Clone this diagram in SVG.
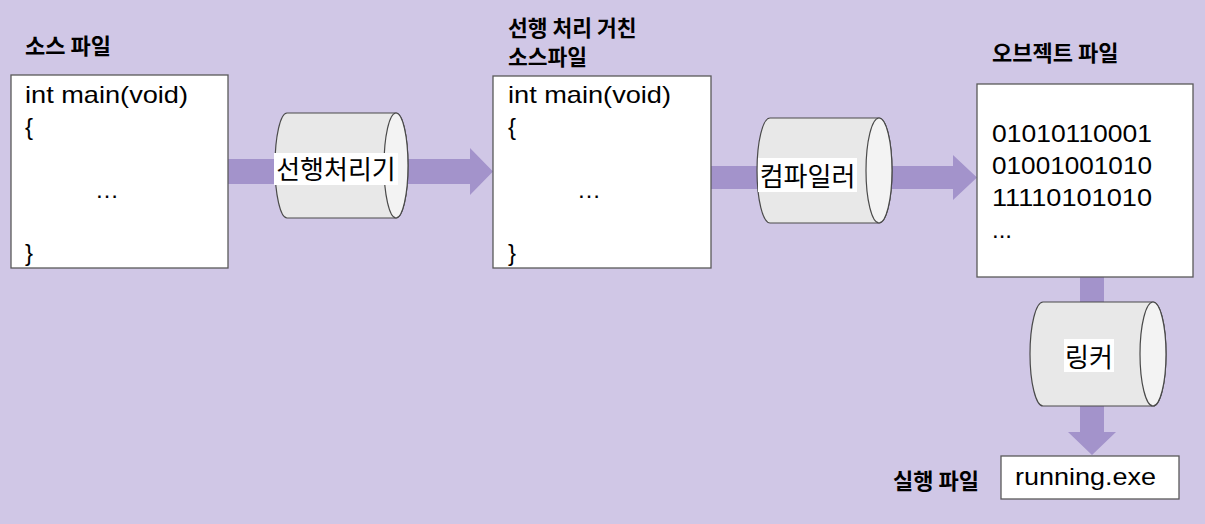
<svg xmlns="http://www.w3.org/2000/svg" width="1205" height="524" viewBox="0 0 1205 524">
<style>
.bg{fill:#d0c7e6}
.box{fill:#ffffff;stroke:#595959;stroke-width:1.3}
.arrow{fill:#a393cb}
.cyl{fill:#e8e8e8;stroke:#4a4a4a;stroke-width:1.2}
.cap{fill:#f3f3f3;stroke:#4a4a4a;stroke-width:1.2}
.lblbg{fill:#ffffff}
.code{font-family:"Liberation Sans",Arial,sans-serif;font-size:24px;fill:#000}
.title{font-family:"Noto Sans CJK KR",sans-serif;font-size:22px;font-weight:bold;fill:#000}
.title2{font-family:"Noto Sans CJK KR",sans-serif;font-size:21.5px;font-weight:bold;fill:#000}
.lbl{font-family:"Noto Sans CJK KR",sans-serif;font-size:26px;fill:#000;text-anchor:middle}
</style>
<rect class="bg" x="0" y="0" width="1205" height="524"/>

<g id="connectors">
<polygon class="arrow" points="228,159 470,159 470,148 493,171.5 470,195 470,184 228,184"/>
<polygon class="arrow" points="711,166 953,166 953,155 977,177.5 953,200 953,189 711,189"/>
<polygon class="arrow" points="1080,277 1104,277 1104,432 1116,432 1092,455 1068,432 1080,432"/>
</g>

<g id="source-file">
<text class="title" x="25" y="54">소스 파일</text>
<rect class="box" x="11" y="75" width="217" height="193"/>
<text class="code" x="25" y="103" textLength="163" lengthAdjust="spacingAndGlyphs">int main(void)</text>
<text class="code" x="25" y="134.5">{</text>
<text class="code" x="95" y="197.5" textLength="23" lengthAdjust="spacing">…</text>
<text class="code" x="25" y="260.5">}</text>
</g>

<g id="preprocessor">
<path class="cyl" d="M287,113 L396,113 A12,52.5 0 0 1 396,218 L287,218 A12,52.5 0 0 1 287,113 Z"/>
<ellipse class="cap" cx="396" cy="165.5" rx="12" ry="52.5"/>
<rect class="lblbg" x="274" y="153" width="124" height="32"/>
<text class="lbl" x="336" y="179">선행처리기</text>
</g>

<g id="preprocessed-file">
<text class="title2" x="508" y="36">선행 처리 거친</text>
<text class="title2" x="508" y="65">소스파일</text>
<rect class="box" x="493" y="76" width="218" height="192"/>
<text class="code" x="508" y="103" textLength="163" lengthAdjust="spacingAndGlyphs">int main(void)</text>
<text class="code" x="508" y="134.5">{</text>
<text class="code" x="577" y="197.5" textLength="23" lengthAdjust="spacing">…</text>
<text class="code" x="508" y="260.5">}</text>
</g>

<g id="compiler">
<path class="cyl" d="M770,118 L879,118 A13,52.5 0 0 1 879,223 L770,223 A13,52.5 0 0 1 770,118 Z"/>
<ellipse class="cap" cx="879" cy="170.5" rx="13" ry="52.5"/>
<rect class="lblbg" x="758" y="158" width="99" height="34"/>
<text class="lbl" x="807.5" y="186">컴파일러</text>
</g>

<g id="object-file">
<text class="title" x="992" y="61">오브젝트 파일</text>
<rect class="box" x="977" y="84" width="216" height="193"/>
<text class="code" x="992" y="142" textLength="160" lengthAdjust="spacingAndGlyphs">01010110001</text>
<text class="code" x="992" y="174" textLength="160" lengthAdjust="spacingAndGlyphs">01001001010</text>
<text class="code" x="992" y="206" textLength="160" lengthAdjust="spacingAndGlyphs">11110101010</text>
<text class="code" x="992" y="238">...</text>
</g>

<g id="linker">
<path class="cyl" d="M1043,302 L1153,302 A13,52 0 0 1 1153,406 L1043,406 A13,52 0 0 1 1043,302 Z"/>
<ellipse class="cap" cx="1153" cy="354" rx="13" ry="52"/>
<rect class="lblbg" x="1064" y="339" width="50" height="33"/>
<text class="lbl" x="1089" y="367">링커</text>
</g>

<g id="executable">
<text class="title" x="893" y="489">실행 파일</text>
<rect class="box" x="1001" y="456" width="178" height="43"/>
<text class="code" x="1015" y="485" textLength="141" lengthAdjust="spacingAndGlyphs">running.exe</text>
</g>
</svg>
